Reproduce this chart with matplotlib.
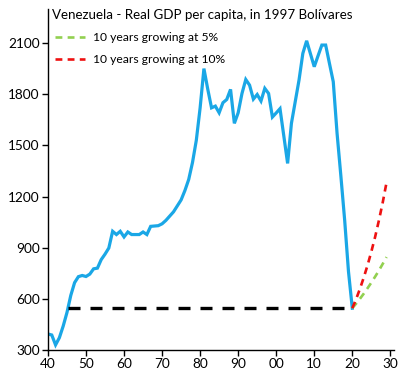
import numpy as np
import matplotlib
matplotlib.use('Agg')
from matplotlib import pyplot as plt

plt.rcParams['font.family'] = ['Lato', 'DejaVu Sans']

# PIB real per capita (Bolívares de 1997)
years = list(range(1940, 2021))
gdp = [394, 388, 330, 372, 440, 520, 620, 695, 730, 737,
       731, 745, 776, 780, 830, 862, 898, 996, 977, 996,
       963, 992, 977, 977, 977, 992, 977, 1025, 1027, 1029,
       1040, 1060, 1085, 1110, 1145, 1180, 1235, 1300, 1400, 1530,
       1720, 1950, 1830, 1720, 1730, 1691, 1750, 1769, 1828, 1629,
       1691, 1804, 1886, 1853, 1771, 1798, 1760, 1834, 1804, 1666,
       1690, 1715, 1555, 1394, 1629, 1756, 1883, 2039, 2113, 2037,
       1961, 2025, 2088, 2088, 1980, 1873, 1570, 1320, 1060, 760,
       545]

# proyecciones desde 2020
proj_years = list(range(2020, 2030))
proj_5 = [545, 572, 600, 630, 662, 695, 730, 766, 805, 845]
proj_10 = [545, 598, 658, 724, 796, 876, 963, 1060, 1165, 1282]

# linea horizontal al nivel de 2020
flat_years = [1945.3, 2020]
flat_vals = [545, 545]

xticks = list(range(1940, 2031, 10))
xlabels = ['40', '50', '60', '70', '80', '90', '00', '10', '20', '30']
yticks = list(range(300, 2101, 300))

fig = plt.figure(figsize=(4.03, 3.79), dpi=100)
ax = fig.add_axes([0.119, 0.0765, 0.859, 0.9])

ax.plot(years, gdp, color='#1AA7E6', lw=2.3, solid_joinstyle='miter')
ax.plot(flat_years, flat_vals, color='black', lw=2.4, dashes=(3.6, 3.0))
ax.plot(proj_years, proj_5, color='#92D050', lw=1.9, dashes=(2.6, 2.0),
        label='10 years growing at 5%')
ax.plot(proj_years, proj_10, color='#EE1111', lw=1.9, dashes=(2.6, 2.0),
        label='10 years growing at 10%')

ax.set_xlim(1940, 2031)
ax.set_ylim(300, 2300)
ax.set_xticks(xticks)
ax.set_xticklabels(xlabels)
ax.set_yticks(yticks)
ax.tick_params(labelsize=9.8, length=4, width=1, color='black', pad=2)
for s in ['top', 'right']:
    ax.spines[s].set_visible(False)
for s in ['left', 'bottom']:
    ax.spines[s].set_linewidth(1)

ax.text(0.012, 0.982, 'Venezuela - Real GDP per capita, in 1997 Bolívares',
        transform=ax.transAxes, ha='left', va='center', fontsize=9.65)
ax.legend(loc='upper left', bbox_to_anchor=(0.006, 0.947), frameon=False,
          fontsize=8.7, handlelength=2.5, handletextpad=0.65, labelspacing=0.95,
          borderaxespad=0)

fig.savefig('out.png', dpi=100)
